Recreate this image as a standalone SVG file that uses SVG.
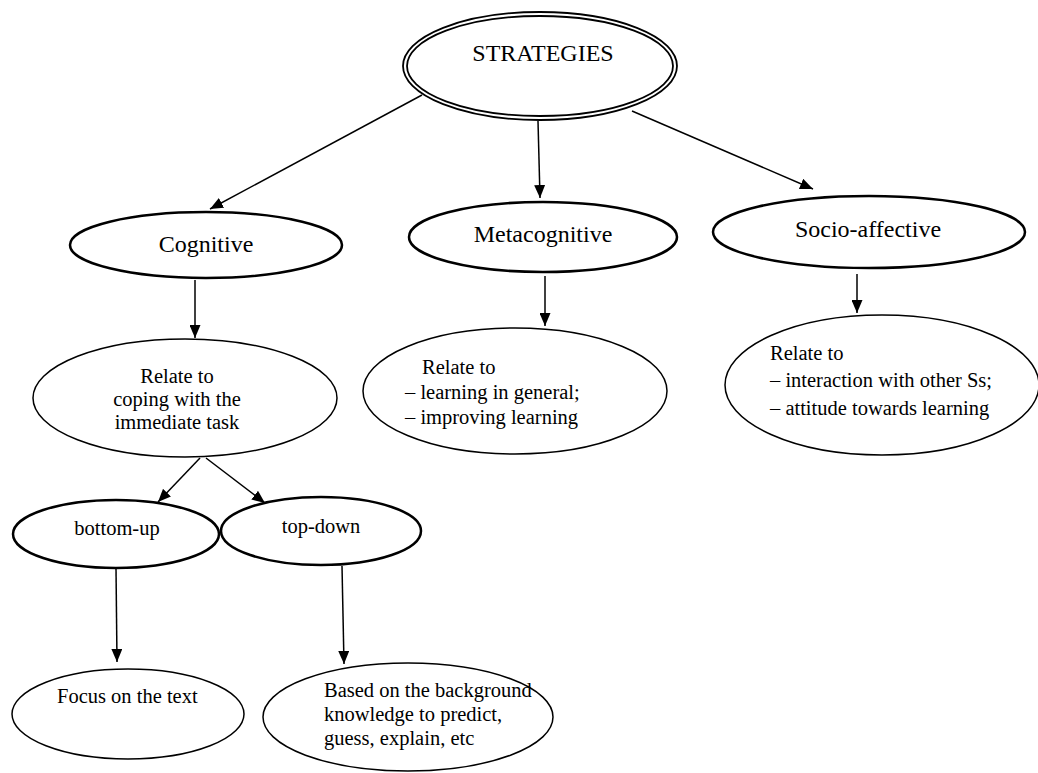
<svg xmlns="http://www.w3.org/2000/svg" width="1038" height="773" viewBox="0 0 1038 773">
<style>
text{font-family:"Liberation Serif","Times New Roman",serif;fill:#000}
.big{font-size:24px}
.sm{font-size:20.5px}
.thick{fill:#fff;stroke:#000;stroke-width:2.5}
.thin{fill:#fff;stroke:#000;stroke-width:1.5}
.dbl{fill:none;stroke:#000;stroke-width:1.8}
.c{text-anchor:middle}
#connectors line{stroke:#000;stroke-width:1.5;marker-end:url(#ah)}
</style>
<defs>
<marker id="ah" markerUnits="userSpaceOnUse" markerWidth="13" markerHeight="11" refX="13" refY="5.5" orient="auto" viewBox="0 0 13 11">
<path d="M0,0 L13,5.5 L0,11 z" fill="#000"/>
</marker>
</defs>
<rect width="1038" height="773" fill="#fff"/>
<g id="connectors">
<line x1="422" y1="95" x2="210" y2="209"/>
<line x1="538" y1="121" x2="540" y2="198"/>
<line x1="632" y1="111" x2="813" y2="189"/>
<line x1="195" y1="280" x2="195" y2="338"/>
<line x1="545" y1="276" x2="545" y2="326"/>
<line x1="857" y1="274" x2="857" y2="313"/>
<line x1="200" y1="458" x2="158" y2="502"/>
<line x1="206" y1="458" x2="265" y2="503"/>
<line x1="116" y1="568" x2="117" y2="662"/>
<line x1="342" y1="566" x2="344" y2="664"/>
</g>
<g id="strategies">
<ellipse class="dbl" cx="540" cy="66" rx="137" ry="54" fill="#fff"/>
<ellipse class="dbl" cx="540" cy="66" rx="133" ry="50"/>
<text class="big c" x="543" y="61">STRATEGIES</text>
</g>
<g id="cognitive">
<ellipse class="thick" cx="206" cy="245" rx="136" ry="33"/>
<text class="big c" x="206" y="252">Cognitive</text>
</g>
<g id="metacognitive">
<ellipse class="thick" cx="543" cy="237" rx="134" ry="35"/>
<text class="big c" x="543" y="242">Metacognitive</text>
</g>
<g id="socio-affective">
<ellipse class="thick" cx="869" cy="232" rx="156" ry="36"/>
<text class="big c" x="868" y="237">Socio-affective</text>
</g>
<g id="cog-relate">
<ellipse class="thin" cx="185" cy="398" rx="152" ry="59"/>
<text class="sm c" x="177" y="383">Relate to</text>
<text class="sm c" x="177" y="406">coping with the</text>
<text class="sm c" x="177" y="429">immediate task</text>
</g>
<g id="meta-relate">
<ellipse class="thin" cx="515" cy="391" rx="152" ry="63"/>
<text class="sm" x="422" y="374">Relate to</text>
<text class="sm" x="405" y="399">– learning in general;</text>
<text class="sm" x="405" y="424">– improving learning</text>
</g>
<g id="socio-relate">
<ellipse class="thin" cx="882" cy="385" rx="157" ry="70"/>
<text class="sm" x="770" y="360">Relate to</text>
<text class="sm" x="770" y="387">– interaction with other Ss;</text>
<text class="sm" x="770" y="415">– attitude towards learning</text>
</g>
<g id="bottom-up">
<ellipse class="thick" cx="116" cy="534" rx="103" ry="34"/>
<text class="sm c" x="117" y="535">bottom-up</text>
</g>
<g id="top-down">
<ellipse class="thick" cx="321" cy="531" rx="100" ry="34"/>
<text class="sm c" x="321" y="533">top-down</text>
</g>
<g id="focus">
<ellipse class="thin" cx="128" cy="714" rx="116" ry="45"/>
<text class="sm" x="57" y="703">Focus on the text</text>
</g>
<g id="based">
<ellipse class="thin" cx="408" cy="717" rx="145" ry="54"/>
<text class="sm" x="324" y="697">Based on the background</text>
<text class="sm" x="324" y="721">knowledge to predict,</text>
<text class="sm" x="324" y="745">guess, explain, etc</text>
</g>
</svg>
